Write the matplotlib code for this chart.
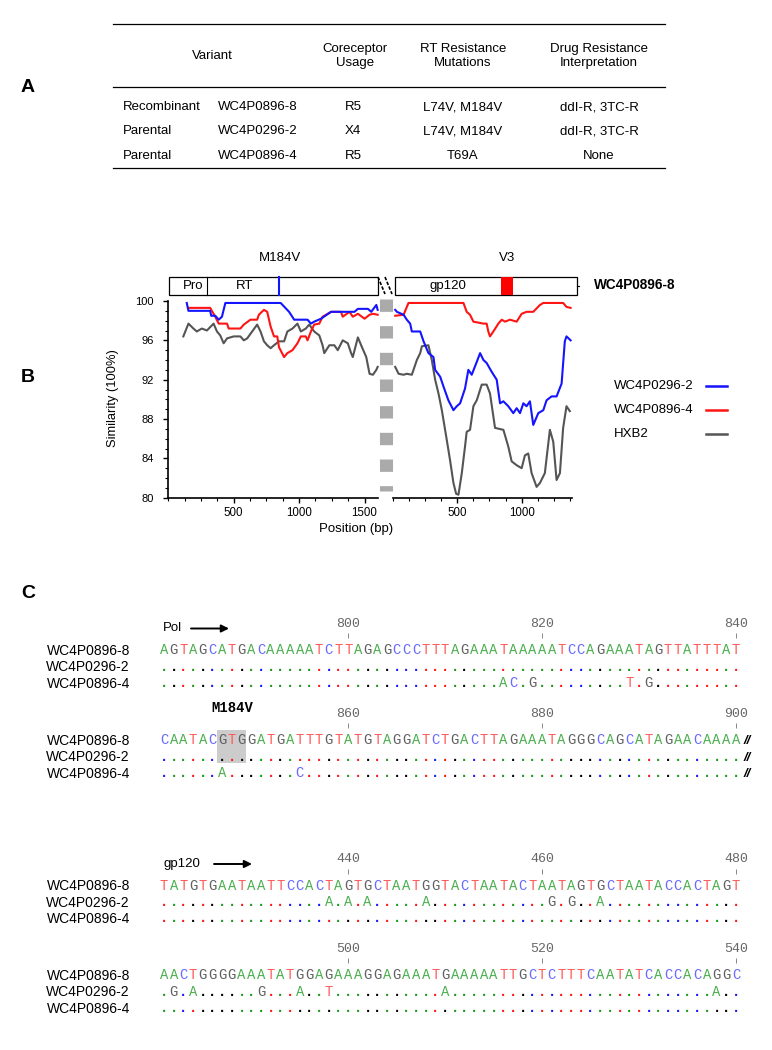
import matplotlib
matplotlib.use("Agg")
import matplotlib.pyplot as plt
from matplotlib.lines import Line2D
from matplotlib.patches import Rectangle
from matplotlib.ticker import MultipleLocator

W, H = 772, 1050
SANS = ['Liberation Sans', 'DejaVu Sans']
MONO = ['Liberation Mono', 'DejaVu Sans Mono']
plt.rcParams['font.family'] = SANS
plt.rcParams['lines.scale_dashes'] = False

# ---------------- panel A: table ----------------
col_headers = ["Variant", "Coreceptor\nUsage", "RT Resistance\nMutations",
               "Drug Resistance\nInterpretation"]
variant_type = ["Recombinant", "Parental", "Parental"]
variant_name = ["WC4P0896-8", "WC4P0296-2", "WC4P0896-4"]
coreceptor = ["R5", "X4", "R5"]
rt_mutations = ["L74V, M184V", "L74V, M184V", "T69A"]
interpretation = ["ddI-R, 3TC-R", "ddI-R, 3TC-R", "None"]

# ---------------- panel B: similarity plots ----------------
series_names = ["WC4P0296-2", "WC4P0896-4", "HXB2"]
series_colors = ["#1414ff", "#ff1414", "#555555"]

pol_pos_0296 = [141, 154, 320, 328, 359, 385, 410, 436, 859, 923, 962, 1064, 1090,
                1115, 1167, 1244, 1423, 1449, 1526, 1551, 1590, 1600]
pol_sim_0296 = [99.8, 99.0, 99.0, 98.5, 98.5, 98.1, 98.4, 99.8, 99.8, 98.9, 98.1, 98.1,
                97.7, 97.9, 98.2, 98.9, 98.9, 99.2, 99.2, 98.9, 99.6, 99.1]
pol_pos_0896 = [154, 320, 359, 385, 449, 462, 551, 577, 628, 679, 692, 731, 756, 782,
                808, 833, 846, 885, 910, 949, 987, 1013, 1051, 1064, 1090, 1115, 1154,
                1179, 1244, 1320, 1333, 1385, 1410, 1449, 1500, 1538, 1564, 1600]
pol_sim_0896 = [99.3, 99.3, 98.4, 97.7, 97.7, 97.2, 97.2, 97.6, 98.1, 98.1, 98.6, 99.1,
                98.9, 97.4, 96.4, 96.4, 95.3, 94.3, 94.7, 95.0, 95.7, 96.4, 96.4, 96.0,
                96.9, 97.6, 97.7, 98.4, 98.9, 98.9, 98.4, 98.9, 98.4, 98.7, 98.2, 98.6,
                98.7, 98.6]
pol_pos_hxb2 = [115, 154, 192, 218, 256, 295, 346, 372, 397, 423, 449, 500, 551, 577,
                603, 641, 679, 705, 731, 756, 782, 808, 846, 885, 910, 949, 987, 1013,
                1051, 1077, 1115, 1154, 1179, 1192, 1231, 1269, 1295, 1333, 1372, 1397,
                1410, 1449, 1474, 1513, 1538, 1564, 1590, 1600]
pol_sim_hxb2 = [96.4, 97.7, 97.2, 96.9, 97.2, 97.0, 97.7, 96.9, 96.5, 95.7, 96.2, 96.4,
                96.4, 96.0, 96.2, 96.9, 97.6, 96.9, 95.9, 95.5, 95.2, 95.5, 95.9, 95.9,
                96.9, 97.2, 97.7, 96.9, 97.2, 97.6, 96.9, 96.5, 95.5, 94.7, 95.5, 95.5,
                95.0, 96.0, 95.7, 94.7, 94.3, 96.3, 95.5, 94.3, 92.6, 92.5, 93.0, 93.3]

env_pos_0296 = [18, 31, 83, 108, 134, 147, 212, 238, 276, 315, 328, 367, 393, 431, 470,
                496, 522, 560, 586, 612, 651, 677, 703, 728, 767, 806, 832, 858, 896,
                935, 961, 987, 1013, 1038, 1064, 1090, 1129, 1168, 1193, 1232, 1271,
                1310, 1335, 1348, 1380]
env_sim_0296 = [99.1, 98.9, 98.6, 98.1, 97.7, 96.9, 96.9, 95.9, 94.7, 94.3, 93.0, 92.3,
                91.3, 89.9, 88.9, 89.3, 89.6, 91.1, 93.0, 92.5, 93.8, 94.7, 94.0, 93.7,
                92.8, 92.0, 89.6, 89.8, 89.3, 88.6, 89.1, 88.6, 89.6, 89.3, 89.8, 87.4,
                88.6, 88.9, 89.9, 90.3, 90.3, 91.6, 95.9, 96.4, 96.0]
env_pos_0896 = [18, 83, 121, 548, 573, 599, 625, 703, 728, 741, 754, 780, 819, 845, 870,
                909, 961, 1000, 1038, 1090, 1142, 1168, 1322, 1348, 1380]
env_sim_0896 = [98.5, 98.6, 99.8, 99.8, 98.9, 98.6, 97.9, 97.7, 97.7, 96.9, 96.4, 96.9,
                97.7, 98.1, 97.9, 98.1, 97.9, 98.7, 98.9, 98.9, 99.6, 99.8, 99.8, 99.4,
                99.3]
env_pos_hxb2 = [18, 44, 83, 108, 147, 160, 186, 212, 225, 276, 302, 328, 354, 380, 418,
                444, 470, 491, 509, 535, 560, 573, 599, 625, 651, 690, 728, 754, 793,
                858, 896, 922, 961, 1000, 1025, 1051, 1077, 1116, 1142, 1180, 1219,
                1245, 1271, 1297, 1322, 1348, 1374]
env_sim_hxb2 = [93.3, 92.6, 92.5, 92.6, 92.5, 93.0, 94.0, 94.7, 95.4, 95.5, 94.0, 92.0,
                90.6, 88.9, 85.9, 83.8, 81.5, 80.4, 80.3, 82.5, 85.2, 86.7, 86.9, 89.3,
                89.9, 91.5, 91.5, 90.6, 87.1, 86.9, 85.2, 83.7, 83.3, 83.0, 84.3, 84.5,
                82.5, 81.1, 81.5, 82.5, 86.9, 85.7, 81.8, 82.5, 87.1, 89.3, 88.8]

# ---------------- panel C: alignments ----------------
pol_start = [781, 841]
pol_ref = ["AGTAGCATGACAAAAATCTTAGAGCCCTTTAGAAATAAAAATCCAGAAATAGTTATTTAT",
           "CAATACGTGGATGATTTGTATGTAGGATCTGACTTAGAAATAGGGCAGCATAGAACAAAA"]
env_start = [421, 481]
env_ref = ["TATGTGAATAATTCCACTAGTGCTAATGGTACTAATACTAATAGTGCTAATACCACTAGT",
           "AACTGGGGAAATATGGAGAAAGGAGAAATGAAAAATTGCTCTTTCAATATCACCACAGGC"]
# substitutions relative to WC4P0896-8 (position -> base)
pol_subs_0296 = {}
pol_subs_0896 = {816: 'A', 817: 'C', 819: 'G', 829: 'T', 831: 'G', 847: 'A', 855: 'C'}
env_subs_0296 = {438: 'A', 440: 'A', 442: 'A', 448: 'A', 461: 'G', 463: 'G', 466: 'A',
                 482: 'G', 484: 'A', 491: 'G', 495: 'A', 498: 'T', 510: 'A', 538: 'A'}
env_subs_0896 = {}

base_color = {'A': '#4caf50', 'C': '#6a6aff', 'G': '#606060', 'T': '#ff5a5a'}
dot_color = {'A': '#1e9a1e', 'C': '#1a1aff', 'G': '#000000', 'T': '#ff1a1a'}

fig = plt.figure(figsize=(W / 100, H / 100), dpi=100)


def box(left, top, w, h):
    return [left / W, 1 - (top + h) / H, w / W, h / H]


ov = fig.add_axes([0, 0, 1, 1])
ov.set_xlim(0, W)
ov.set_ylim(H, 0)
ov.axis('off')
ov.patch.set_visible(False)

# panel letters
for lab, y in zip("ABC", [87, 378, 593]):
    ov.text(28, y, lab, fontsize=14, fontweight='bold', ha='center', va='center')

# ---- table
for y in [24, 87, 168]:
    ov.plot([113, 665], [y, y], color='k', lw=0.9)
for x, t in zip([212, 355, 463, 599], col_headers):
    ov.text(x, 56, t, ha='center', va='center', fontsize=9.5, linespacing=1.3)
for i, y in enumerate([107, 131, 156]):
    ov.text(123, y, variant_type[i], ha='left', va='center', fontsize=9.5)
    ov.text(218, y, variant_name[i], ha='left', va='center', fontsize=9.5)
    ov.text(353, y, coreceptor[i], ha='center', va='center', fontsize=9.5)
    ov.text(463, y, rt_mutations[i], ha='center', va='center', fontsize=9.5)
    ov.text(599, y, interpretation[i], ha='center', va='center', fontsize=9.5)

# ---- panel B plots
axL = fig.add_axes(box(168.3, 301, 210, 196.7))
axR = fig.add_axes(box(392.9, 301, 179, 196.7))
pol_series = [(pol_pos_0296, pol_sim_0296), (pol_pos_0896, pol_sim_0896),
              (pol_pos_hxb2, pol_sim_hxb2)]
env_series = [(env_pos_0296, env_sim_0296), (env_pos_0896, env_sim_0896),
              (env_pos_hxb2, env_sim_hxb2)]
for ax, series in [(axL, pol_series), (axR, env_series)]:
    for (xs, ys), c in reversed(list(zip(series, series_colors))):
        ax.plot(xs, ys, color=c, lw=1.5, clip_on=False)
    ax.set_ylim(80, 100)
    ax.patch.set_visible(False)
    for s in ['top', 'right']:
        ax.spines[s].set_visible(False)
    ax.spines['bottom'].set_linewidth(1.2)
    ax.spines['left'].set_linewidth(1.2)
    ax.xaxis.set_minor_locator(MultipleLocator(125))
    ax.tick_params(axis='both', which='major', direction='out', length=3.5,
                   width=1, labelsize=8.3, pad=3)
    ax.tick_params(axis='both', which='minor', direction='out', length=2, width=0.8)
axL.set_xlim(0, 1605)
axL.set_xticks([500, 1000, 1500])
axL.set_yticks(range(80, 101, 4))
axL.yaxis.set_minor_locator(MultipleLocator(1))
axL.tick_params(axis='y', labelsize=8, pad=7)
axR.set_xlim(0, 1390)
axR.set_xticks([500, 1000])
axR.spines['left'].set_visible(False)
axR.tick_params(axis='y', which='both', left=False, labelleft=False)

ov.text(113, 398, "Similarity (100%)", rotation=90, ha='center', va='center', fontsize=9.3)
ov.text(356, 529, "Position (bp)", ha='center', va='center', fontsize=9.5)

# gap marker between the two segments
ov.add_line(Line2D([385.5, 385.5], [299.3, 491], color='#aaaaaa', lw=9.4,
                   linestyle=(0, (8.9, 10.3))))
for x0 in [378, 385]:
    ov.plot([x0, x0 + 7], [277, 294], color='k', lw=1.2, linestyle=(0, (2.5, 1.2)))

# genome maps
ov.add_patch(Rectangle((169, 277), 209, 18, facecolor='white', edgecolor='k', lw=0.9))
ov.plot([207.3, 207.3], [277, 295], color='k', lw=0.8)
ov.plot([279, 279], [277, 295], color='#1414ff', lw=1.5)
ov.text(193, 286, "Pro", ha='center', va='center', fontsize=9.5)
ov.text(245, 286, "RT", ha='center', va='center', fontsize=9.5)
ov.text(280, 258, "M184V", ha='center', va='center', fontsize=9.5)
ov.add_patch(Rectangle((395, 277), 181.7, 18, facecolor='white', edgecolor='k', lw=0.9))
ov.add_patch(Rectangle((500.7, 277), 12.6, 18, facecolor='#ff0000', edgecolor='none'))
ov.plot([576.7, 579], [286, 286], color='k', lw=0.8)
ov.text(448, 286, "gp120", ha='center', va='center', fontsize=9.5)
ov.text(507, 258, "V3", ha='center', va='center', fontsize=9.5)
ov.text(594, 285, "WC4P0896-8", ha='left', va='center', fontsize=9.8, fontweight='bold')

# legend
for name, c, y in zip(series_names, series_colors, [386, 410, 434]):
    ov.text(614, y, name, ha='left', va='center', fontsize=9.5)
    ov.plot([706, 727], [y, y], color=c, lw=1.8)

# ---- panel C alignment blocks
RS = 16.3
block_top = [649.5, 739.5, 885, 974.5]
blocks = [(pol_start[0], pol_ref[0], pol_subs_0296, pol_subs_0896),
          (pol_start[1], pol_ref[1], pol_subs_0296, pol_subs_0896),
          (env_start[0], env_ref[0], env_subs_0296, env_subs_0896),
          (env_start[1], env_ref[1], env_subs_0296, env_subs_0896)]
block_axes = []
for (start, ref, sub2, sub3), y1 in zip(blocks, block_top):
    ax = fig.add_axes(box(159.2, y1 - 0.7 * RS, 581.6, 3.2 * RS))
    ax.set_xlim(start - 0.5, start + 59.5)
    ax.set_ylim(2.5, -0.7)
    ax.patch.set_visible(False)
    for s in ax.spines.values():
        s.set_visible(False)
    for i, b in enumerate(ref):
        pos = start + i
        ax.text(pos, 0.3, b, ha='center', va='baseline', family=MONO, fontsize=10,
                color=base_color[b], clip_on=False)
        for r, subs in [(1, sub2), (2, sub3)]:
            if pos in subs:
                ax.text(pos, r + 0.3, subs[pos], ha='center', va='baseline', family=MONO,
                        fontsize=10, color=base_color[subs[pos]], clip_on=False)
            else:
                ax.text(pos, r + 0.3, '.', ha='center', va='baseline', family=MONO,
                        fontsize=10, fontweight='bold', color=dot_color[b], clip_on=False)
    ax.set_xticks([p for p in range(start, start + 60) if p % 20 == 0])
    ax.xaxis.tick_top()
    ax.tick_params(axis='x', length=3.6, width=0.7, color='#888888', pad=2.5,
                   labelsize=9.5, labelcolor='#666666')
    for lbl in ax.get_xticklabels():
        lbl.set_family(MONO)
    ax.set_yticks([0, 1, 2])
    ax.set_yticklabels(variant_name, fontsize=10)
    ax.tick_params(axis='y', length=0, pad=21)
    block_axes.append(ax)

# M184V codon highlight and break marks
ax2 = block_axes[1]
ax2.add_patch(Rectangle((846.5, -0.58), 3, 2.0, facecolor='#cccccc', edgecolor='none', zorder=0))
ax2.text(848, -1.93, "M184V", ha='center', va='center', family=MONO, fontweight='bold',
         fontsize=10, clip_on=False)
for r in range(3):
    ax2.text(901.2, r + 0.3, "//", ha='center', va='baseline', fontsize=9.5, fontweight='bold',
             fontstyle='italic', clip_on=False)

# region arrows
for lab, y1, x_end in [("Pol", block_top[0], 229), ("gp120", block_top[2], 252)]:
    yy = y1 - 21.5
    ov.text(163, yy, lab, ha='left', va='center', fontsize=9.5)
    ov.annotate('', xy=(x_end, yy + 0.5), xytext=(x_end - 38, yy + 0.5),
                arrowprops=dict(arrowstyle='-|>', color='k', lw=1.4, mutation_scale=11,
                                shrinkA=0, shrinkB=0))

fig.savefig("out.png", dpi=100)
